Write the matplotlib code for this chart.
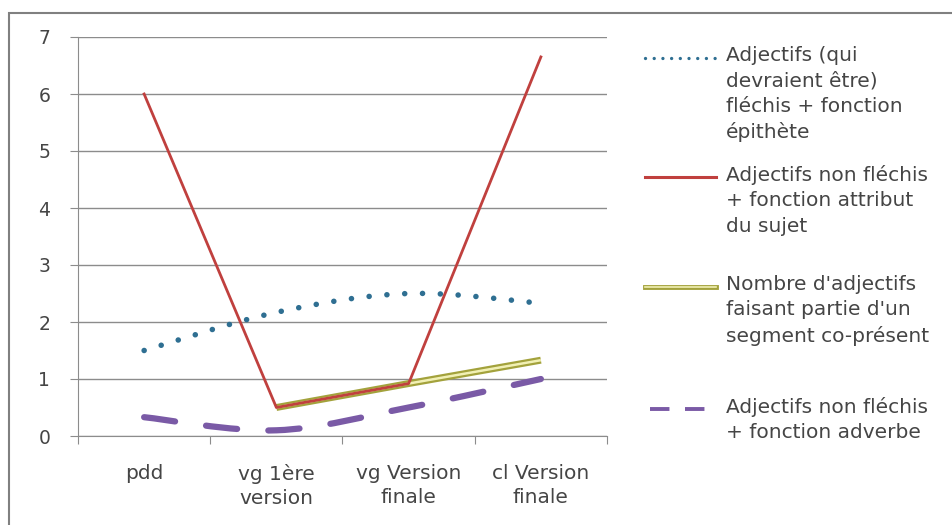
import matplotlib
matplotlib.use("Agg")
import matplotlib.pyplot as plt
from matplotlib.path import Path
from matplotlib.patches import PathPatch, Rectangle
from matplotlib.lines import Line2D
import numpy as np

# data
categories = ['pdd', 'vg 1ère\nversion', 'vg Version\nfinale', 'cl Version\nfinale']
epithete = [1.5, 2.17, 2.5, 2.33]      # dotted, smoothed
attribut = [6.0, 0.5, 0.92, 6.65]      # red
segment = [None, 0.5, 0.92, 1.33]      # double olive line
adverbe = [0.33, 0.1, 0.5, 1.0]        # dashed, smoothed

labels = [
    'Adjectifs (qui\ndevraient être)\nfléchis + fonction\népithète',
    'Adjectifs non fléchis\n+ fonction attribut\ndu sujet',
    "Nombre d'adjectifs\nfaisant partie d'un\nsegment co-présent",
    'Adjectifs non fléchis\n+ fonction adverbe',
]

plt.rcParams['font.family'] = ['DejaVu Sans']
txt_col = '#454545'
blue = '#2f6f92'
red = '#c0403e'
olive_out = '#a3a23c'
olive_in = '#f1f0b4'
purple = '#7a5aa6'
grid_col = '#8c8c8c'
fs = 14.5


def smooth_path(xs, ys):
    # catmull-rom style bezier through the points (like excel "smoothed line")
    pts = np.column_stack([xs, ys]).astype(float)
    verts = [pts[0]]
    codes = [Path.MOVETO]
    n = len(pts)
    for i in range(n - 1):
        p0 = pts[max(i - 1, 0)]
        p1 = pts[i]
        p2 = pts[i + 1]
        p3 = pts[min(i + 2, n - 1)]
        c1 = p1 + (p2 - p0) / 6.0
        c2 = p2 - (p3 - p1) / 6.0
        verts += [c1, c2, p2]
        codes += [Path.CURVE4] * 3
    return Path(verts, codes)


fig = plt.figure(figsize=(9.53, 5.25), dpi=100)
ax = fig.add_axes([78 / 953, 1 - 436 / 525, 529 / 953, 399 / 525])

x = np.arange(len(categories)) + 0.5

ax.set_xlim(0, 4)
ax.set_ylim(0, 7)
ax.set_yticks(range(8))
ax.set_xticks(np.arange(5))
ax.set_xticklabels([])
ax.set_xticks(x, minor=True)
ax.set_xticklabels(categories, minor=True, fontsize=fs, color=txt_col, linespacing=1.32)
ax.tick_params(axis='x', which='minor', length=0, pad=20)
ax.tick_params(axis='x', which='major', length=6, color=grid_col, direction='out')
ax.tick_params(axis='y', length=6, color=grid_col, labelsize=13.5, labelcolor=txt_col, pad=14)
ax.grid(axis='y', color=grid_col, lw=1)
ax.set_axisbelow(True)
for s in ['right', 'top']:
    ax.spines[s].set_visible(False)
ax.spines['bottom'].set_color(grid_col)
ax.spines['left'].set_color(grid_col)

# dotted series
p = PathPatch(smooth_path(x, epithete), fill=False, edgecolor=blue, lw=4,
              linestyle=(0, (0.01, 3.2)), capstyle='round', zorder=3)
p.set_transform(ax.transData)
ax.add_patch(p)

# red series
ax.plot(x, attribut, color=red, lw=2, zorder=4)

# double olive line
sx = [xx for xx, v in zip(x, segment) if v is not None]
sy = [v for v in segment if v is not None]
ax.plot(sx, sy, color=olive_out, lw=5, zorder=3, solid_capstyle='butt')
ax.plot(sx, sy, color=olive_in, lw=1.8, zorder=3, solid_capstyle='butt')

# dashed series
p = PathPatch(smooth_path(x, adverbe), fill=False, edgecolor=purple, lw=4.5,
              linestyle=(0, (5, 5)), capstyle='round', zorder=3)
p.set_transform(ax.transData)
ax.add_patch(p)

# legend drawn by hand, handle aligned with first text line
ys_leg = [58, 177, 287, 409]
x0, x1, xt = 645 / 953, 716 / 953, 726 / 953
for i, yy in enumerate(ys_leg):
    fy = 1 - yy / 525
    if i == 0:
        fig.add_artist(Line2D([x0, x1], [fy, fy], color=blue, lw=2.4,
                              linestyle=(0, (0.01, 2.6)), dash_capstyle='round'))
    elif i == 1:
        fig.add_artist(Line2D([x0, x1], [fy, fy], color=red, lw=2.2))
    elif i == 2:
        fig.add_artist(Line2D([x0, x1], [fy, fy], color=olive_out, lw=3.5))
        fig.add_artist(Line2D([x0, x1], [fy, fy], color=olive_in, lw=1.2))
    else:
        fig.add_artist(Line2D([x0 + 0.005, x1 - 0.005], [fy, fy], color=purple, lw=2.8,
                              linestyle=(0, (5, 4))))
    fig.text(xt, fy + 12 / 525, labels[i], fontsize=fs, color=txt_col, va='top',
             linespacing=1.42, transform=fig.transFigure)

# outer frame of the chart (cut off at right and bottom)
fig.add_artist(Rectangle((9 / 953, -0.1), 1.2, 1 - 13 / 525 + 0.1, fill=False,
                         edgecolor='#808080', lw=1.5, transform=fig.transFigure))

plt.savefig('out.png', dpi=100)
